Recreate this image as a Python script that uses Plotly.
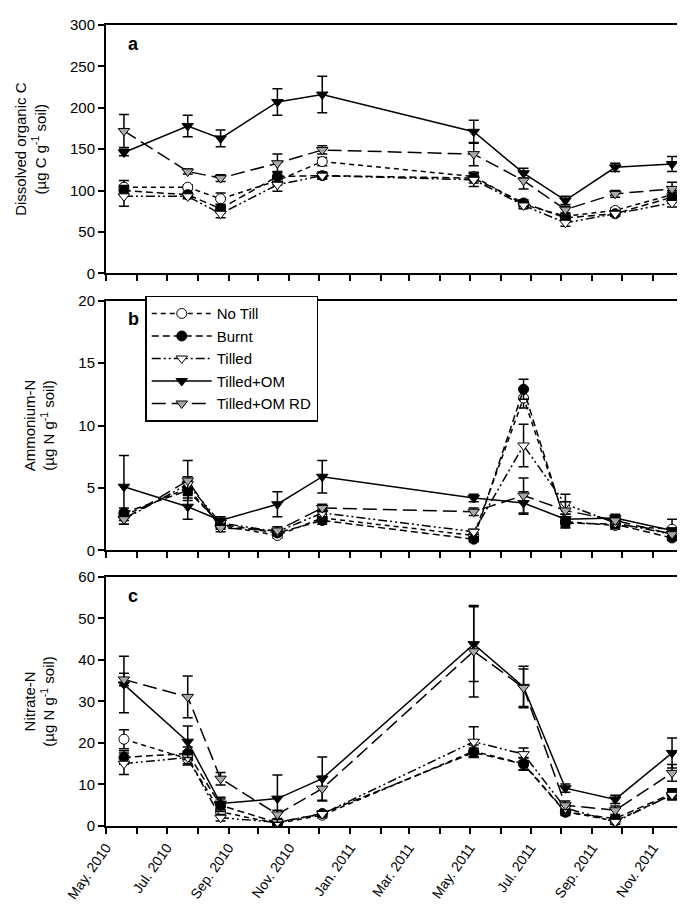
import plotly.graph_objects as go
from plotly.subplots import make_subplots

# sampling dates
dates = ["2010-05-19", "2010-07-22", "2010-08-24", "2010-10-20", "2010-12-04",
         "2011-05-05", "2011-06-24", "2011-08-05", "2011-09-24", "2011-11-20"]

treatments = ["No Till", "Burnt", "Tilled", "Tilled+OM", "Tilled+OM RD"]

# a: dissolved organic C
doc_no_till = [104, 104, 90, 112, 135, 117, 83, 69, 76, 95]
doc_burnt = [100, 95, 78, 117, 118, 115, 85, 67, 72, 92]
doc_tilled = [93, 93, 72, 107, 118, 113, 82, 61, 72, 85]
doc_tilled_om = [146, 178, 163, 207, 216, 171, 121, 88, 128, 132]
doc_tilled_om_rd = [172, 123, 115, 133, 149, 144, 112, 77, 96, 102]
doc_no_till_err = [8, 3, 7, 5, 5, 5, 4, 3, 3, 5]
doc_burnt_err = [6, 3, 5, 6, 4, 6, 4, 3, 3, 6]
doc_tilled_err = [12, 3, 5, 8, 4, 8, 4, 4, 3, 5]
doc_tilled_om_err = [4, 13, 10, 16, 22, 14, 6, 5, 5, 9]
doc_tilled_om_rd_err = [20, 3, 4, 11, 5, 14, 10, 4, 4, 8]

# b: ammonium-N
nh4_no_till = [2.8, 5.0, 2.0, 1.2, 2.6, 1.2, 12.2, 2.3, 2.0, 1.7]
nh4_burnt = [3.0, 4.8, 2.1, 1.4, 2.4, 0.9, 12.9, 2.2, 2.1, 1.0]
nh4_tilled = [2.5, 5.3, 2.2, 1.5, 3.0, 1.5, 8.4, 3.7, 2.2, 1.3]
nh4_tilled_om = [5.1, 3.5, 2.4, 3.7, 5.9, 4.2, 3.8, 2.5, 2.6, 1.6]
nh4_tilled_om_rd = [2.5, 5.6, 1.8, 1.6, 3.4, 3.1, 4.4, 3.2, 2.4, 1.3]
nh4_no_till_err = [0.4, 0.6, 0.3, 0.2, 0.3, 0.2, 0.8, 0.4, 0.3, 0.8]
nh4_burnt_err = [0.4, 0.6, 0.3, 0.2, 0.3, 0.2, 0.8, 0.4, 0.3, 0.2]
nh4_tilled_err = [0.4, 0.6, 0.3, 0.2, 0.3, 0.2, 1.7, 0.8, 0.3, 0.2]
nh4_tilled_om_err = [2.5, 1.0, 0.3, 1.0, 1.3, 0.3, 0.9, 0.4, 0.3, 0.2]
nh4_tilled_om_rd_err = [0.4, 1.6, 0.3, 0.3, 0.3, 0.3, 1.4, 0.7, 0.3, 0.2]

# c: nitrate-N
no3_no_till = [20.9, 16.2, 3.4, 0.6, 2.6, 18.0, 15.0, 3.5, 1.2, 7.5]
no3_burnt = [16.5, 17.5, 5.0, 0.8, 3.0, 17.7, 14.9, 3.3, 1.8, 7.8]
no3_tilled = [15.0, 16.5, 2.0, 0.9, 2.9, 20.3, 17.3, 4.3, 1.0, 7.5]
no3_tilled_om = [34.1, 20.3, 5.4, 6.6, 11.4, 43.8, 33.5, 9.1, 6.4, 17.6]
no3_tilled_om_rd = [35.3, 31.1, 11.4, 2.8, 9.0, 42.1, 33.3, 5.0, 3.8, 12.8]
no3_no_till_err = [2.3, 1.5, 1.0, 0.5, 0.7, 1.5, 1.5, 0.8, 0.6, 1.2]
no3_burnt_err = [1.6, 1.5, 1.5, 0.5, 0.7, 1.0, 1.5, 0.8, 0.6, 1.2]
no3_tilled_err = [2.6, 1.5, 0.8, 0.5, 0.7, 3.6, 1.5, 0.8, 0.6, 1.2]
no3_tilled_om_err = [6.8, 3.8, 1.5, 5.7, 5.2, 9.0, 5.0, 1.0, 1.0, 3.6]
no3_tilled_om_rd_err = [1.5, 5.0, 1.5, 1.0, 3.0, 11.0, 4.5, 1.0, 1.0, 2.0]

FONT = "Liberation Sans, Arial, sans-serif"

# per-treatment look: dash, marker symbol, marker fill
styles = [
    ("5px,4px", "circle", "white"),
    ("7px,4px", "circle", "black"),
    ("9px,3px,2px,3px,2px,3px", "triangle-down", "white"),
    ("solid", "triangle-down", "black"),
    ("14px,6px", "triangle-down", "#a8a8a8"),
]

panels = [
    ([doc_no_till, doc_burnt, doc_tilled, doc_tilled_om, doc_tilled_om_rd],
     [doc_no_till_err, doc_burnt_err, doc_tilled_err, doc_tilled_om_err, doc_tilled_om_rd_err]),
    ([nh4_no_till, nh4_burnt, nh4_tilled, nh4_tilled_om, nh4_tilled_om_rd],
     [nh4_no_till_err, nh4_burnt_err, nh4_tilled_err, nh4_tilled_om_err, nh4_tilled_om_rd_err]),
    ([no3_no_till, no3_burnt, no3_tilled, no3_tilled_om, no3_tilled_om_rd],
     [no3_no_till_err, no3_burnt_err, no3_tilled_err, no3_tilled_om_err, no3_tilled_om_rd_err]),
]

fig = make_subplots(rows=3, cols=1, shared_xaxes=True)

for r, (vals, errs) in enumerate(panels, start=1):
    for name, y, e, (dash, sym, fill) in zip(treatments, vals, errs, styles):
        fig.add_trace(go.Scatter(
            x=dates, y=y, name=name, mode="lines+markers",
            line=dict(color="black", width=1.5, dash=dash),
            marker=dict(symbol=sym, size=10, color=fill,
                        line=dict(color="black", width=1)),
            error_y=dict(type="data", array=e, color="black", thickness=1.5, width=5),
            showlegend=(r == 2),
        ), row=r, col=1)

fig.update_xaxes(
    type="date", range=["2010-05-01", "2011-12-01"],
    tick0="2010-05-01", dtick="M2", tickformat="%b. %Y", tickangle=-55,
    ticks="outside", ticklen=6, tickwidth=1.5, tickcolor="black",
    minor=dict(dtick="M1", ticks="outside", ticklen=6, tickwidth=1.5, tickcolor="black"),
    showline=True, linecolor="black", linewidth=2, mirror=True,
    showgrid=False, zeroline=False,
    tickfont=dict(family=FONT, size=14, color="black"),
)
fig.update_yaxes(
    ticks="outside", ticklen=6, tickwidth=1.5, tickcolor="black",
    showline=True, linecolor="black", linewidth=2, mirror=True,
    showgrid=False, zeroline=False,
    tickfont=dict(family=FONT, size=15, color="black"),
    title_font=dict(family=FONT, size=15, color="black"),
    title_standoff=20,
)

fig.update_yaxes(range=[0, 300], dtick=50, domain=[0.690, 1.0],
                 title_text="Dissolved organic C<br>(µg C g<sup>-1</sup> soil)", row=1, col=1)
fig.update_yaxes(range=[0, 20], dtick=5, domain=[0.344, 0.656],
                 title_text="Ammonium-N<br>(µg N g<sup>-1</sup> soil)", row=2, col=1)
fig.update_yaxes(range=[0, 60], dtick=10, domain=[0.0, 0.311],
                 title_text="Nitrate-N<br>(µg N g<sup>-1</sup> soil)", row=3, col=1)

for letter, yref in zip(["a", "b", "c"], ["y domain", "y2 domain", "y3 domain"]):
    fig.add_annotation(text=f"<b>{letter}</b>", xref="x domain", yref=yref,
                       x=0.035, y=0.925, xanchor="left", yanchor="middle",
                       showarrow=False, font=dict(family=FONT, size=18, color="black"))

fig.update_layout(
    width=685, height=907,
    margin=dict(l=98, r=9, t=8, b=89),
    paper_bgcolor="white", plot_bgcolor="white",
    font=dict(family=FONT, size=15, color="black"),
    legend=dict(x=0.068, y=0.662, xanchor="left", yanchor="top",
                bgcolor="white", bordercolor="black", borderwidth=1.5,
                font=dict(family=FONT, size=15, color="black"),
                tracegroupgap=0, itemwidth=60),
)

fig.write_html("out.html")
